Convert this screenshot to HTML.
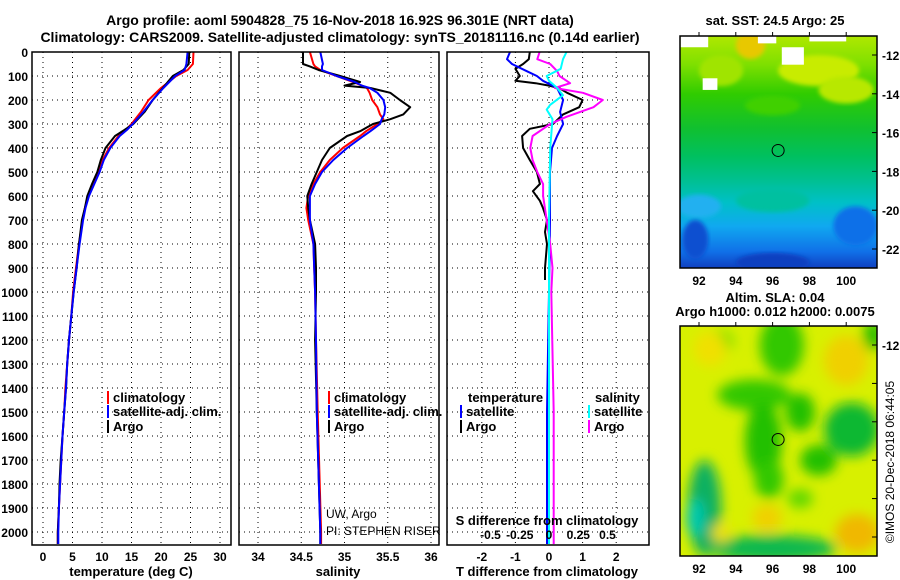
<!DOCTYPE html>
<html><head><meta charset="utf-8"><style>
body{margin:0;background:#fff;}
svg{display:block;font-family:"Liberation Sans",Arial,sans-serif;font-weight:bold;}
</style></head><body>
<svg id="c" width="900" height="580" viewBox="0 0 900 580" xmlns="http://www.w3.org/2000/svg">
<defs>
<linearGradient id="sst" x1="0" y1="0" x2="0" y2="1">
<stop offset="0" stop-color="#b0e800"/><stop offset="0.12" stop-color="#80e000"/>
<stop offset="0.25" stop-color="#30cc00"/><stop offset="0.4" stop-color="#10c030"/>
<stop offset="0.52" stop-color="#00c060"/><stop offset="0.62" stop-color="#00c090"/>
<stop offset="0.72" stop-color="#00c0c8"/><stop offset="0.82" stop-color="#10a8f0"/>
<stop offset="0.93" stop-color="#1070e8"/><stop offset="1" stop-color="#1040c0"/>
</linearGradient>
<filter id="bl" x="-50%" y="-50%" width="200%" height="200%"><feGaussianBlur stdDeviation="6"/></filter>
<filter id="bl2"><feGaussianBlur stdDeviation="2"/></filter>
<clipPath id="cm1"><rect x="680" y="36" width="197" height="232"/></clipPath>
<clipPath id="cm2"><rect x="680" y="326" width="197" height="230"/></clipPath>
</defs>
<g id="root"></g>
</svg>
<script>
// ---------- data ----------
const depths = [0,50,75,100,150,200,250,300,325,350,400,450,500,550,600,650,700,800,900,1000,1100,1200,1300,1400,1500,1600,1700,1800,1900,2000,2050];
const tempArgo = [24.8,24.7,23.8,22.0,20.3,18.6,17.2,15.3,13.8,12.2,10.6,9.8,9.2,8.3,7.5,7.1,6.6,6.1,5.7,5.2,4.8,4.4,4.1,3.9,3.6,3.3,3.0,2.8,2.7,2.5,2.5];
const tempClim = [25.5,25.4,24.5,22.6,20.0,17.9,16.6,15.0,14.0,12.8,11.2,10.1,9.4,8.5,7.7,7.1,6.7,6.1,5.6,5.1,4.8,4.4,4.1,3.8,3.6,3.3,3.1,2.9,2.7,2.5,2.5];
const tempSat = [24.5,24.3,24.0,22.4,20.4,18.6,17.0,15.2,14.2,13.0,11.4,10.3,9.6,8.7,7.8,7.2,6.8,6.2,5.7,5.2,4.8,4.4,4.1,3.9,3.6,3.3,3.1,2.9,2.7,2.6,2.6];
const salDepths = [0,50,60,75,100,125,140,150,170,200,230,260,280,300,330,350,400,450,500,550,600,650,700,800,900,1000,1200,1500,2000,2050];
const salArgo = [34.52,34.52,34.6,34.7,34.95,35.18,35.0,35.3,35.53,35.64,35.76,35.68,35.53,35.33,35.18,35.03,34.83,34.74,34.68,34.62,34.57,34.58,34.6,34.66,34.67,34.67,34.66,34.68,34.72,34.72];
const salClim = [34.6,34.64,34.66,34.72,34.91,35.1,35.2,35.26,35.29,35.32,35.38,35.41,35.45,35.38,35.25,35.18,34.98,34.83,34.72,34.64,34.58,34.56,34.58,34.64,34.65,34.66,34.67,34.69,34.73,34.73];
const salSat = [34.72,34.75,34.74,34.74,34.91,35.12,35.2,35.29,35.38,35.45,35.47,35.46,35.43,35.41,35.3,35.22,35.03,34.87,34.74,34.66,34.6,34.6,34.6,34.64,34.65,34.66,34.67,34.68,34.72,34.72];
const diffDepths = [0,30,50,70,100,120,130,140,150,170,200,230,260,300,320,350,400,450,500,550,580,620,650,700,750,800,900,950];
const dTArgo = [-0.57,-0.6,-0.77,-1.0,-0.87,-1.0,-0.4,0.0,0.3,0.54,1.0,0.9,0.42,0.12,-0.57,-0.8,-0.77,-0.57,-0.36,-0.27,-0.48,-0.27,-0.18,-0.06,-0.12,-0.06,-0.12,-0.12];
const dDepths2 = [0,30,50,80,100,120,150,200,250,300,350,400,500,700,1000,1500,2050];
const dTSat = [-1.16,-1.25,-1.1,-0.66,-0.36,-0.18,0.24,0.42,0.33,0.42,0.24,0.09,0.03,0.03,0.0,-0.06,-0.06];
const sDepths = [0,30,50,80,100,130,150,170,200,230,270,300,350,400,450,500,550,600,700,800,900,1000,1500,2050];
const dSArgo = [-0.08,-0.1,0.01,0.07,0.09,0.18,0.05,0.29,0.46,0.38,0.15,0.01,-0.14,-0.16,-0.14,-0.1,-0.05,-0.05,-0.02,0.01,0.03,0.02,0.04,0.04];
const sDepths2 = [0,30,70,100,120,150,180,220,240,280,400,700,1000,2050];
const dSSat = [0.15,0.12,0.1,-0.02,0.0,0.07,0.12,0.01,-0.02,0.03,0.01,0.0,0.0,0.0];
const depthTicks = [0,100,200,300,400,500,600,700,800,900,1000,1100,1200,1300,1400,1500,1600,1700,1800,1900,2000];
const tempTicks = [0,5,10,15,20,25,30];
const salTicks = [34,34.5,35,35.5,36];
const tdTicks = [-2,-1,0,1,2];
const sdTicks = [-0.5,-0.25,0,0.25,0.5];
const latTicks = [-12,-14,-16,-18,-20,-22];
const lonTicks = [92,94,96,98,100];

// ---------- axes ----------
const yD = d => 52 + d*0.24;
const xT = t => 43 + t*5.9;
const xS = s => 258 + (s-34)*86.5;
const xTd = v => 549 + v*33.6;
const xSd = v => 549 + v*117;
const mapX = lon => 680.6 + (lon-91)*18.4;
const mapY1 = lat => 55 + (-12-lat)*19.4;
const mapY2 = lat => 345 + (-12-lat)*19.2;

const NS="http://www.w3.org/2000/svg";
const root=document.getElementById('root');
function el(tag,attrs,parent,text){const e=document.createElementNS(NS,tag);for(const k in attrs)e.setAttribute(k,attrs[k]);if(text!==undefined)e.textContent=text;(parent||root).appendChild(e);return e;}
function txt(x,y,s,anchor,size,parent){return el('text',{x:x,y:y,'text-anchor':anchor||'start','font-size':size||13},parent,s);}

let t;
t=txt(340,25,'Argo profile: aoml 5904828_75 16-Nov-2018 16.92S 96.301E (NRT data)','middle',14);


t=txt(340,42,'Climatology: CARS2009. Satellite-adjusted climatology: synTS_20181116.nc (0.14d earlier)','middle',14);



const panels=[{x0:32,x1:231,name:'temperature-panel'},{x0:239,x1:439,name:'salinity-panel'},{x0:447,x1:649,name:'difference-panel'}];
panels.forEach(p=>{
  const g=el('g',{});
  
  
  depthTicks.forEach(d=>{el('line',{x1:p.x0,x2:p.x1,y1:yD(d),y2:yD(d),stroke:'#000','stroke-dasharray':'1,4','stroke-width':1},g);});
  p.g=g;
});
tempTicks.forEach(v=>el('line',{x1:xT(v),x2:xT(v),y1:52,y2:545,stroke:'#000','stroke-dasharray':'1,4'},panels[0].g));
salTicks.forEach(v=>el('line',{x1:xS(v),x2:xS(v),y1:52,y2:545,stroke:'#000','stroke-dasharray':'1,4'},panels[1].g));
tdTicks.forEach(v=>el('line',{x1:xTd(v),x2:xTd(v),y1:52,y2:545,stroke:'#000','stroke-dasharray':'1,4'},panels[2].g));

const yl=el('g',{});


depthTicks.forEach(d=>txt(28,yD(d)+5,String(d),'end',12,yl));

function line(xs,ds,xf,color,w,name,g){
  const pts=xs.map((v,i)=>xf(v).toFixed(1)+','+yD(ds[i]).toFixed(1)).join(' ');
  const e=el('polyline',{points:pts,fill:'none',stroke:color,'stroke-width':w,'stroke-linejoin':'round'},g);
  
  
}
line(tempClim,depths,xT,'#f00',2,'temp-climatology-line',panels[0].g);
line(tempArgo,depths,xT,'#000',2,'temp-argo-line',panels[0].g);
line(tempSat,depths,xT,'#00f',2,'temp-satellite-line',panels[0].g);
line(salClim,salDepths,xS,'#f00',2,'sal-climatology-line',panels[1].g);
line(salArgo,salDepths,xS,'#000',2,'sal-argo-line',panels[1].g);
line(salSat,salDepths,xS,'#00f',2,'sal-satellite-line',panels[1].g);
line(dTArgo,diffDepths,xTd,'#000',2,'tdiff-argo-line',panels[2].g);
line(dTSat,dDepths2,xTd,'#00f',2,'tdiff-satellite-line',panels[2].g);
line(dSArgo,sDepths,xSd,'#f0f',2,'sdiff-argo-line',panels[2].g);
line(dSSat,sDepths2,xSd,'#0ff',2,'sdiff-satellite-line',panels[2].g);

panels.forEach(p=>el('rect',{x:p.x0,y:52,width:p.x1-p.x0,height:493,fill:'none',stroke:'#000','stroke-width':1.5},p.g));

const xl=el('g',{});


tempTicks.forEach(v=>txt(xT(v),561,String(v),'middle',12,xl));
salTicks.forEach(v=>txt(xS(v),561,String(v),'middle',12,xl));
tdTicks.forEach(v=>txt(xTd(v),561,String(v),'middle',12,xl));
sdTicks.forEach(v=>txt(xSd(v),539,String(v),'middle',12,xl));
t=txt(131,576,'temperature (deg C)','middle',13);


t=txt(338,576,'salinity','middle',13);


t=txt(547,576,'T difference from climatology','middle',13);


t=txt(547,525,'S difference from climatology','middle',13);



function legend(x,y,color,label,name){
  const g=el('g',{});
  
  
  el('rect',{x:x,y:y-11,width:2,height:13,fill:color},g);
  txt(x+6,y,label,'start',13,g);
}
legend(107,402,'#f00','climatology','legend-temp-climatology');
legend(107,416,'#00f','satellite-adj. clim.','legend-temp-satellite');
legend(107,431,'#000','Argo','legend-temp-argo');
legend(328,402,'#f00','climatology','legend-sal-climatology');
legend(328,416,'#00f','satellite-adj. clim.','legend-sal-satellite');
legend(328,431,'#000','Argo','legend-sal-argo');
t=txt(468,402,'temperature','start',13);


t=txt(595,402,'salinity','start',13);


legend(460,416,'#00f','satellite','legend-tdiff-satellite');
legend(460,431,'#000','Argo','legend-tdiff-argo');
legend(588,416,'#0ff','satellite','legend-sdiff-satellite');
legend(588,431,'#f0f','Argo','legend-sdiff-argo');
const pi=el('g',{'font-weight':'normal'});


el('text',{x:326,y:518,'font-size':12,'font-weight':'normal'},pi,'UW, Argo');
el('text',{x:326,y:535,'font-size':12,'font-weight':'normal'},pi,'PI: STEPHEN RISER');

// ---------- maps ----------
t=txt(775,25,'sat. SST: 24.5 Argo: 25','middle',13);


const m1=el('g',{'clip-path':'url(#cm1)'});


el('rect',{x:680,y:36,width:197,height:232,fill:'url(#sst)'},m1);
[[94.8,-11.5,0.8,0.7,'#e8c800'],[98.5,-12.8,2.2,0.8,'#c8ec00'],[100,-13.8,1.5,0.7,'#b8e800'],[93.2,-12.8,1.2,0.8,'#a0e400'],[96,-14.6,1.5,0.5,'#40d000'],[92,-19.8,1.2,0.6,'#20b0f0'],[100.5,-20.8,1.2,1.0,'#1070e8'],[91.8,-21.5,0.7,1.0,'#1050d0'],[96,-22.7,2,0.5,'#1040c0'],[96,-19.5,2,0.6,'#00c0a0']].forEach(b=>{
 el('ellipse',{cx:mapX(b[0]),cy:mapY1(b[1]),rx:b[2]*18.4,ry:b[3]*19.4,fill:b[4],filter:'url(#bl2)'},m1);
});
[[91,-11,1.5,0.6],[92.2,-13.2,0.8,0.6],[96.5,-11.6,1.2,0.9],[95.2,-11,1,0.4],[98,-11,2,0.3]].forEach(b=>{
 el('rect',{x:mapX(b[0]),y:mapY1(b[1]),width:b[2]*18.4,height:b[3]*19.4,fill:'#fff'},m1);
});
el('circle',{cx:mapX(96.3),cy:mapY1(-16.92),r:6,fill:'none',stroke:'#000','stroke-width':1},m1);
el('rect',{x:680,y:36,width:197,height:232,fill:'none',stroke:'#000','stroke-width':1.5});

t=txt(775,302,'Altim. SLA: 0.04','middle',13);


t=txt(775,316,'Argo h1000: 0.012 h2000: 0.0075','middle',13);


const m2=el('g',{'clip-path':'url(#cm2)'});


el('rect',{x:680,y:326,width:197,height:230,fill:'#d8f000'},m2);
const bg=el('g',{filter:'url(#bl)'},m2);
[[96.5,-12,1.2,1.6,'#30c800'],[95,-14.6,2,0.8,'#30c800'],[95.5,-17,1,2,'#20c000'],[95.8,-19,0.8,1,'#30c800'],[97.5,-15.5,0.8,1,'#20c000'],[100.3,-16.4,1.5,1.4,'#10b830'],[98.5,-18,1,0.8,'#20c000'],[92.3,-20.5,0.9,2.5,'#10b060'],[91.8,-21,0.5,1,'#00c8b0'],[96,-22.6,3.5,0.7,'#10b850'],[97.5,-20,0.7,0.5,'#60d800'],[93.2,-11.8,0.7,0.6,'#80e000'],[101.5,-11.5,0.6,0.8,'#30c000']].forEach(b=>{
 el('ellipse',{cx:mapX(b[0]),cy:mapY2(b[1]),rx:b[2]*18.4,ry:b[3]*19.2,fill:b[4]},bg);
});
[[92.6,-12.2,0.9,0.9,'#f0e000'],[100,-12.8,1.2,1.3,'#f0d000'],[95.7,-21,0.8,0.7,'#f0d000'],[100.6,-21.8,1.2,1,'#f0b800'],[93.2,-21.8,0.5,0.5,'#f0e000']].forEach(b=>{
 el('ellipse',{cx:mapX(b[0]),cy:mapY2(b[1]),rx:b[2]*18.4,ry:b[3]*19.2,fill:b[4]},bg);
});
el('circle',{cx:mapX(96.3),cy:mapY2(-16.92),r:6,fill:'none',stroke:'#000','stroke-width':1},m2);
el('rect',{x:680,y:326,width:197,height:230,fill:'none',stroke:'#000','stroke-width':1.5});

const mt=el('g',{});


latTicks.forEach(v=>{
  txt(882,mapY1(v)+5,String(v),'start',12,mt);
  txt(882,mapY2(v)+5,String(v),'start',12,mt);
  el('line',{x1:872,x2:877,y1:mapY1(v),y2:mapY1(v),stroke:'#000'},mt);
  el('line',{x1:872,x2:877,y1:mapY2(v),y2:mapY2(v),stroke:'#000'},mt);
});
lonTicks.forEach(v=>{
  txt(mapX(v),285,String(v),'middle',12,mt);
  txt(mapX(v),573,String(v),'middle',12,mt);
  el('line',{x1:mapX(v),x2:mapX(v),y1:32,y2:36,stroke:'#000'},mt);
  el('line',{x1:mapX(v),x2:mapX(v),y1:322,y2:326,stroke:'#000'},mt);
});
el('rect',{x:881,y:372,width:19,height:178,fill:'#fff'});
t=el('text',{x:0,y:0,'font-size':12,'font-weight':'normal','text-anchor':'middle',transform:'translate(894,462) rotate(-90)'},root,'©IMOS 20-Dec-2018 06:44:05');


</script>
</body></html>
